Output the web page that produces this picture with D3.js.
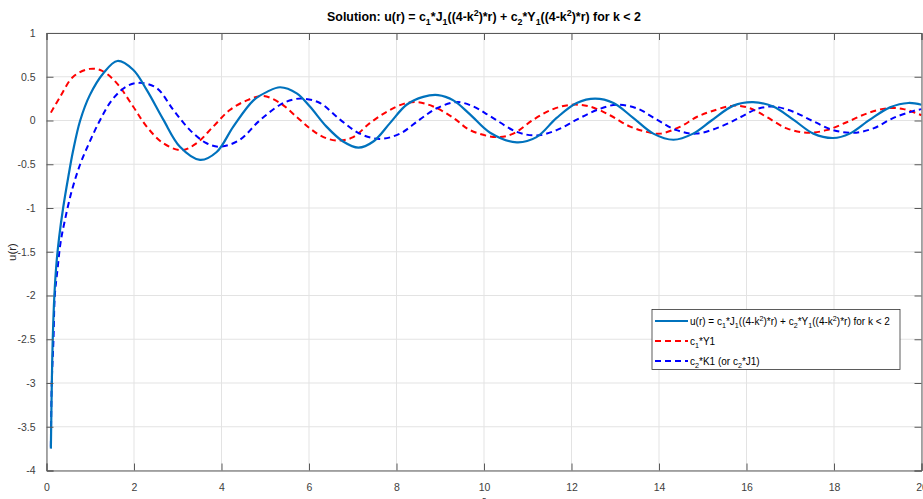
<!DOCTYPE html>
<html><head><meta charset="utf-8">
<script src="https://cdn.jsdelivr.net/npm/d3@7"></script>
<style>body{margin:0;background:#fff;overflow:hidden}svg{display:block;font-family:"Liberation Sans",Arial,sans-serif}</style>
</head><body>
<svg id="c" width="923" height="499"></svg>
<script>
// ---- data ----
const xTicks = [0,2,4,6,8,10,12,14,16,18,20];
const yTicks = [1,0.5,0,-0.5,-1,-1.5,-2,-2.5,-3,-3.5,-4];

const uR = [0.10,0.12,0.14,0.18,0.23,0.29,0.38,0.50,0.61,0.77,0.99,1.30,1.62,1.98,2.29,2.67,3.05,3.51,3.89,4.27,4.73,5.05,5.34,5.72,6.02,6.40,6.78,7.13,7.47,7.85,8.23,8.61,8.95,9.30,9.68,10.14,10.75,11.20,11.66,12.12,12.54,12.96,13.41,13.87,14.33,14.78,15.20,15.70,16.15,16.61,17.07,17.53,17.98,18.36,18.82,19.28,19.70,20.0];
const uV = [-3.75,-3.05,-2.55,-2.0,-1.62,-1.33,-1.0,-0.64,-0.34,0.0,0.29,0.54,0.68,0.58,0.35,0.01,-0.30,-0.45,-0.36,-0.07,0.23,0.33,0.38,0.31,0.16,-0.07,-0.24,-0.31,-0.24,-0.03,0.18,0.27,0.29,0.23,0.07,-0.14,-0.25,-0.19,0.03,0.20,0.25,0.20,0.03,-0.15,-0.22,-0.15,0.0,0.17,0.21,0.16,0.01,-0.15,-0.20,-0.15,0.01,0.15,0.20,0.18];

const y1R = [0.10,0.31,0.61,0.99,1.26,1.60,1.98,2.29,2.67,3.09,3.43,3.81,4.19,4.58,4.95,5.34,5.72,6.02,6.33,6.67,7.01,7.39,7.78,8.16,8.46,8.84,9.30,9.68,10.29,10.67,11.13,11.58,12.0,12.42,12.88,13.34,13.72,14.03,14.49,14.86,15.17,15.70,16.08,16.46,16.92,17.38,17.83,18.29,18.75,19.21,19.59,20.0];
const y1V = [0.09,0.27,0.50,0.59,0.57,0.43,0.16,-0.07,-0.26,-0.34,-0.26,-0.07,0.12,0.23,0.28,0.20,0.04,-0.09,-0.19,-0.23,-0.19,-0.03,0.10,0.19,0.21,0.16,0.03,-0.11,-0.19,-0.15,0.01,0.13,0.18,0.16,0.06,-0.07,-0.13,-0.15,-0.07,0.04,0.10,0.17,0.14,0.04,-0.09,-0.14,-0.11,-0.02,0.08,0.14,0.13,0.06];

const k1R = [0.10,0.12,0.16,0.19,0.25,0.32,0.42,0.58,0.77,0.99,1.22,1.49,1.83,2.14,2.52,2.90,3.28,3.66,3.97,4.42,4.85,5.34,5.64,5.87,6.25,6.71,7.16,7.62,8.08,8.53,8.92,9.38,9.76,10.14,10.75,11.20,11.66,12.12,12.58,13.03,13.49,13.95,14.40,14.85,15.41,15.87,16.23,16.61,17.07,17.53,17.98,18.44,18.90,19.36,19.82,20.0];
const k1V = [-3.73,-3.0,-2.5,-2.0,-1.71,-1.40,-1.14,-0.80,-0.50,-0.24,0.0,0.23,0.39,0.43,0.37,0.12,-0.11,-0.26,-0.30,-0.22,-0.01,0.18,0.24,0.25,0.20,0.01,-0.15,-0.21,-0.15,0.01,0.14,0.21,0.16,0.05,-0.13,-0.17,-0.11,0.01,0.12,0.18,0.14,0.01,-0.11,-0.15,-0.07,0.04,0.13,0.16,0.10,-0.01,-0.11,-0.14,-0.09,0.03,0.11,0.13];

const titleText = "Solution: u(r) = c_1*J_1((4-k^2)*r) + c_2*Y_1((4-k^2)*r) for k < 2";
const legendLabels = ["u(r) = c_1*J_1((4-k^2)*r) + c_2*Y_1((4-k^2)*r) for k < 2","c_1*Y1","c_2*K1 (or c_2*J1)"];
const seriesColors = ["#0072BD","#FF0000","#0000FF"];

// ---- layout ----
const L=46.5, R=921.5, T=33, B=470.5;
const svg=d3.select("#c");
const x=d3.scaleLinear().domain([0,20]).range([L,R]);
const y=d3.scaleLinear().domain([-4,1]).range([B,T]);

// grid
svg.append("g").selectAll("line").data(xTicks).join("line")
 .attr("x1",d=>x(d)).attr("x2",d=>x(d)).attr("y1",T).attr("y2",B)
 .attr("stroke","#e3e3e3").attr("stroke-width",1);
svg.append("g").selectAll("line").data(yTicks).join("line")
 .attr("y1",d=>y(d)).attr("y2",d=>y(d)).attr("x1",L).attr("x2",R)
 .attr("stroke","#e3e3e3").attr("stroke-width",1);

// series
const line=d3.line().x(d=>x(d[0])).y(d=>y(d[1])).curve(d3.curveCatmullRom.alpha(0.5));
const zip=(a,b)=>a.map((v,i)=>[v,b[i]]);
svg.append("clipPath").attr("id","pc").append("rect").attr("x",L).attr("y",T).attr("width",R-L).attr("height",B-T);
const pg=svg.append("g").attr("clip-path","url(#pc)");
pg.append("path").attr("d",line(zip(y1R,y1V))).attr("fill","none").attr("stroke",seriesColors[1]).attr("stroke-width",2).attr("stroke-dasharray","6,4");
pg.append("path").attr("d",line(zip(k1R,k1V))).attr("fill","none").attr("stroke",seriesColors[2]).attr("stroke-width",2).attr("stroke-dasharray","6,4");
pg.append("path").attr("d",line(zip(uR,uV))).attr("fill","none").attr("stroke",seriesColors[0]).attr("stroke-width",2.2);

// axes
const fmt=d=>String(d).replace("\u2212","-");
const axC="#5a5a5a";
const gx=svg.append("g").attr("transform",`translate(0,${B})`).call(d3.axisBottom(x).tickValues(xTicks).tickFormat(fmt).tickSize(-7).tickPadding(13));
const gxt=svg.append("g").attr("transform",`translate(0,${T})`).call(d3.axisTop(x).tickValues(xTicks).tickFormat("").tickSize(-7));
const gy=svg.append("g").attr("transform",`translate(${L},0)`).call(d3.axisLeft(y).tickValues(yTicks).tickFormat(fmt).tickSize(-7).tickPadding(11));
const gyr=svg.append("g").attr("transform",`translate(${R},0)`).call(d3.axisRight(y).tickValues(yTicks).tickFormat("").tickSize(-7));
gxt.selectAll("text").remove();
gyr.selectAll("text").remove();
[gx,gxt,gy,gyr].forEach(g=>{
 g.select(".domain").attr("stroke",axC).attr("stroke-width",1);
 g.selectAll(".tick line").attr("stroke",axC);
 g.selectAll("text").attr("fill","#404040").attr("font-size",10.5).attr("font-family","Liberation Sans, Arial, sans-serif");
});

// rich text helper: _x subscript, ^x superscript
function rich(sel,str,fs){
 const re=/([_^])(.)|([^_^]+)/g; let m, pend=0;
 while((m=re.exec(str))){
  if(m[3]){
   const t=sel.append("tspan").text(m[3]);
   if(pend){t.attr("dy",-pend);pend=0;}
  } else {
   const sh=m[1]==="^"?-fs*0.38:fs*0.3;
   sel.append("tspan").attr("font-size",fs*0.72).attr("dy",sh-pend).text(m[2]);
   pend=sh;
  }
 }
}

// title
const tt=svg.append("text").attr("x",(L+R)/2).attr("y",21).attr("text-anchor","middle")
 .attr("font-weight","bold").attr("font-size",12.4).attr("fill","#000");
rich(tt,titleText,12.4);

// axis labels
svg.append("text").attr("transform","translate(16,252) rotate(-90)").attr("text-anchor","middle")
 .attr("font-size",11.5).attr("fill","#262626").text("u(r)");
svg.append("text").attr("x",(L+R)/2).attr("y",504).attr("text-anchor","middle")
 .attr("font-size",11.5).attr("fill","#262626").text("r");

// legend
const lg=svg.append("g");
lg.append("rect").attr("x",652).attr("y",309.5).attr("width",248).attr("height",60)
 .attr("fill","#fff").attr("stroke","#333").attr("stroke-width",0.8);
legendLabels.forEach((lab,i)=>{
 const yy=321+i*20;
 lg.append("line").attr("x1",655).attr("x2",688).attr("y1",yy).attr("y2",yy)
  .attr("stroke",seriesColors[i]).attr("stroke-width",2).attr("stroke-dasharray",i?"6,4":null);
 const t=lg.append("text").attr("x",690).attr("y",yy+3.5).attr("font-size",10).attr("fill","#000");
 rich(t,lab,10);
});
</script>
</body></html>
